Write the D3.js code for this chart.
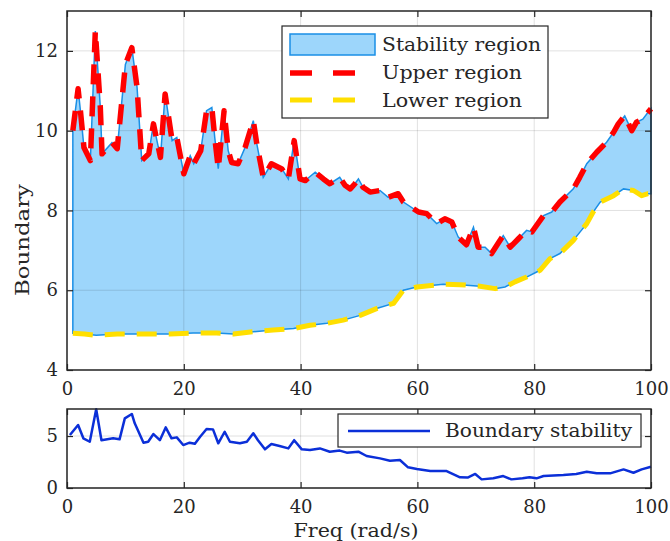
<!DOCTYPE html>
<html><head><meta charset="utf-8">
<script src="https://cdn.jsdelivr.net/npm/d3@7/dist/d3.min.js"></script>
<style>
body{margin:0;background:#fff;}
svg text{font-family:"DejaVu Serif",serif;fill:#262626;}
</style></head>
<body><svg id="c" width="670" height="541"></svg>
<script>
// ---- data ----
const upperFreq = [1.0,1.9,2.3,2.9,4.0,4.85,5.7,6.0,7.7,8.6,10.0,11.1,12.0,12.8,14.0,14.8,16.0,16.8,18.0,18.8,20.0,21.1,21.7,22.9,23.9,24.8,25.3,25.9,26.9,27.6,28.2,29.3,30.5,31.9,32.5,33.6,35.0,36.8,37.9,38.9,39.3,39.9,40.8,42.5,43.9,45.0,46.7,47.6,48.5,49.3,49.9,50.7,51.9,53.6,55.0,56.7,57.6,60.2,61.6,63.3,64.7,65.9,67.0,68.4,69.6,70.4,71.6,72.7,73.8,74.7,75.9,77.3,78.7,79.6,81.6,83.0,84.4,86.7,87.8,89.0,90.7,92.4,93.6,94.4,95.5,96.7,97.5,98.6,99.5,100];
const upperVal = [10.0,11.05,10.5,9.58,9.25,12.5,10.6,9.42,9.7,9.55,11.66,12.08,11.08,9.25,9.42,10.17,9.33,10.92,9.75,9.83,8.92,9.37,9.17,9.5,10.5,10.58,9.83,9.05,10.5,9.5,9.2,9.17,9.58,10.25,9.67,8.83,9.17,9.04,8.79,9.75,9.37,8.79,8.75,8.96,8.79,8.67,8.83,8.63,8.54,8.67,8.79,8.58,8.46,8.5,8.33,8.42,8.21,7.96,7.92,7.67,7.79,7.71,7.33,7.14,7.58,7.08,7.08,6.92,7.17,7.37,7.08,7.29,7.5,7.46,7.87,7.96,8.21,8.54,8.83,9.17,9.46,9.71,9.96,10.17,10.37,10.0,10.21,10.29,10.46,10.55];
const lowerFreq = [1.0,3,5,8.6,13,17.6,21.6,25.6,28.5,31.9,35.3,38.8,41.6,44.5,47.3,50.2,53,55.9,57.6,59.9,64.4,67.3,70.7,73.3,75,76.7,78.7,81,82.7,84.4,86.7,89,90.1,91.3,93.6,95.3,97,98.4,99.5,100];
const lowerVal = [4.92,4.9,4.87,4.9,4.9,4.9,4.93,4.93,4.9,4.96,5.0,5.04,5.12,5.17,5.25,5.37,5.54,5.67,6.0,6.08,6.15,6.14,6.1,6.04,6.08,6.21,6.33,6.5,6.79,6.92,7.25,7.67,7.96,8.21,8.37,8.54,8.5,8.37,8.42,8.42];
const stabFreq = [0.5,1.9,2.8,3.9,5.0,5.9,7.9,9.0,9.9,11.1,11.6,13.1,13.9,14.8,15.9,16.9,17.9,18.8,19.9,21.0,21.9,22.8,23.9,25.0,25.9,27.0,27.9,29.6,30.8,31.9,32.7,33.9,35.0,36.4,37.9,38.9,40.2,41.6,43.3,45.0,46.7,47.9,49.9,51.3,53.6,55.3,57.0,58.4,59.9,62.2,65.0,67.3,68.6,69.9,71.0,73.0,74.7,76.1,78.0,79.2,80.4,81.6,85.0,87.2,89.0,90.7,93.0,95.3,97.0,98.4,100];
const stabVal = [5.1,6.06,4.78,4.45,7.57,4.6,4.78,4.68,6.7,7.12,6.22,4.36,4.45,5.19,4.6,5.83,4.78,4.87,4.13,4.36,4.25,4.93,5.67,5.64,4.3,5.41,4.45,4.3,4.45,5.26,4.6,3.72,4.23,4.04,3.81,4.6,3.72,3.65,3.81,3.49,3.6,3.4,3.49,3.08,2.85,2.63,2.69,1.99,1.83,1.63,1.63,1.03,1.0,1.35,0.83,0.93,1.15,0.83,0.93,1.03,0.93,1.15,1.25,1.35,1.57,1.41,1.41,1.79,1.47,1.79,2.05];
const xTicks = [0,20,40,60,80,100];
const yTicksTop = [4,6,8,10,12];
const yTicksBot = [0,5];
const legendTop = ["Stability region","Upper region","Lower region"];
const legendTopLen = [159,140,140];
const legendBot = "Boundary stability";
const xLabel = "Freq (rad/s)";
const yLabel = "Boundary";

// ---- layout ----
const svg = d3.select("#c");
const L = 67, R = 651;
const top1 = 11, bot1 = 370, top2 = 409, bot2 = 488;
const x = d3.scaleLinear().domain([0,100]).range([L,R]);
const y1 = d3.scaleLinear().domain([4,13]).range([bot1,top1]);
const y2 = d3.scaleLinear().domain([0,7.6]).range([bot2,top2]);
const axisCol = "#262626", gridCol = "rgba(0,0,0,0.12)";
const fillCol = "#9dd6fb", edgeCol = "#1a8fe6";

const upper = upperFreq.map((f,i)=>[f,upperVal[i]]);
const lower = lowerFreq.map((f,i)=>[f,lowerVal[i]]);
const stab = stabFreq.map((f,i)=>[f,stabVal[i]]);

function grid(g, yS, yt, t, b){
  g.selectAll(".gx").data(xTicks).join("line")
    .attr("x1",d=>x(d)).attr("x2",d=>x(d)).attr("y1",t).attr("y2",b)
    .attr("stroke",gridCol).attr("stroke-width",1);
  g.selectAll(".gy").data(yt).join("line")
    .attr("x1",L).attr("x2",R).attr("y1",d=>yS(d)).attr("y2",d=>yS(d))
    .attr("stroke",gridCol).attr("stroke-width",1);
}
function frame(g, yS, yt, t, b){
  const tk = 6;
  const ax = d3.axisBottom(x).tickValues(xTicks).tickSize(-tk).tickPadding(12).tickFormat(d3.format("d"));
  const gx = g.append("g").attr("transform",`translate(0,${b})`).call(ax);
  const ay = d3.axisLeft(yS).tickValues(yt).tickSize(-tk).tickPadding(9).tickFormat(d3.format("d"));
  const gy = g.append("g").attr("transform",`translate(${L},0)`).call(ay);
  const axTop = d3.axisTop(x).tickValues(xTicks).tickSize(-tk).tickFormat("");
  const gt = g.append("g").attr("transform",`translate(0,${t})`).call(axTop);
  const axR = d3.axisRight(yS).tickValues(yt).tickSize(-tk).tickFormat("");
  const gr = g.append("g").attr("transform",`translate(${R},0)`).call(axR);
  [gx,gy,gt,gr].forEach(a=>{
    a.select(".domain").remove();
    a.selectAll("line").attr("stroke",axisCol).attr("stroke-width",1.2);
    a.selectAll("text").attr("font-family","DejaVu Serif").attr("font-size",18).attr("fill",axisCol);
  });
  g.append("rect").attr("x",L).attr("y",t).attr("width",R-L).attr("height",b-t)
    .attr("fill","none").attr("stroke",axisCol).attr("stroke-width",1.5);
}

// ---- top plot ----
const g1 = svg.append("g");
const poly = upper.concat(lower.slice().reverse());
const lineTop = d3.line().x(d=>x(d[0])).y(d=>y1(d[1]));
g1.append("path").attr("d",lineTop(poly)+"Z").attr("fill",fillCol).attr("stroke","none");
grid(g1, y1, yTicksTop, top1, bot1);
g1.append("path").attr("d",lineTop(poly)+"Z").attr("fill","none").attr("stroke",edgeCol).attr("stroke-width",1.5);
g1.append("path").attr("d",lineTop(upper)).attr("fill","none").attr("stroke","#ff0000")
  .attr("stroke-width",5.5).attr("stroke-dasharray","20 12").attr("stroke-linejoin","round");
g1.append("path").attr("d",lineTop(lower)).attr("fill","none").attr("stroke","#ffdf00")
  .attr("stroke-width",5).attr("stroke-dasharray","20 12").attr("stroke-linejoin","round");
frame(g1, y1, yTicksTop, top1, bot1);

// top legend
const lg = svg.append("g");
lg.append("rect").attr("x",282).attr("y",26).attr("width",266).attr("height",92)
  .attr("fill","#fff").attr("stroke",axisCol).attr("stroke-width",1.2);
lg.append("rect").attr("x",290).attr("y",34).attr("width",85).attr("height",21)
  .attr("fill",fillCol).attr("stroke",edgeCol).attr("stroke-width",1.5);
lg.append("line").attr("x1",290).attr("x2",355).attr("y1",73).attr("y2",73)
  .attr("stroke","#ff0000").attr("stroke-width",5.5).attr("stroke-dasharray","22 21");
lg.append("line").attr("x1",290).attr("x2",355).attr("y1",100).attr("y2",100)
  .attr("stroke","#ffdf00").attr("stroke-width",5).attr("stroke-dasharray","22 21");
lg.selectAll("text.l").data(legendTop).join("text")
  .attr("x",382).attr("y",(d,i)=>45+i*28).attr("dy","0.35em")
  .attr("font-size",18).attr("textLength",(d,i)=>legendTopLen[i]).attr("lengthAdjust","spacingAndGlyphs").text(d=>d);

// ---- bottom plot ----
const g2 = svg.append("g");
grid(g2, y2, yTicksBot, top2, bot2);
const lineBot = d3.line().x(d=>x(d[0])).y(d=>y2(d[1]));
g2.append("path").attr("d",lineBot(stab)).attr("fill","none").attr("stroke","#0b2fd8")
  .attr("stroke-width",2.5).attr("stroke-linejoin","round");
frame(g2, y2, yTicksBot, top2, bot2);
const lg2 = svg.append("g");
lg2.append("rect").attr("x",338).attr("y",414).attr("width",303).attr("height",33)
  .attr("fill","#fff").attr("stroke",axisCol).attr("stroke-width",1.2);
lg2.append("line").attr("x1",348).attr("x2",430).attr("y1",431).attr("y2",431)
  .attr("stroke","#0b2fd8").attr("stroke-width",2.5);
lg2.append("text").attr("x",445).attr("y",431).attr("dy","0.35em").attr("font-size",18)
  .attr("textLength",187).attr("lengthAdjust","spacingAndGlyphs").text(legendBot);

// axis labels
svg.append("text").attr("x",356).attr("y",530).attr("dy","0.35em").attr("text-anchor","middle")
  .attr("font-size",19).attr("textLength",125).attr("lengthAdjust","spacingAndGlyphs").text(xLabel);
svg.append("text").attr("transform","translate(22,240) rotate(-90)").attr("dy","0.35em")
  .attr("text-anchor","middle").attr("font-size",19).attr("textLength",112).attr("lengthAdjust","spacingAndGlyphs").text(yLabel);
</script></body></html>
